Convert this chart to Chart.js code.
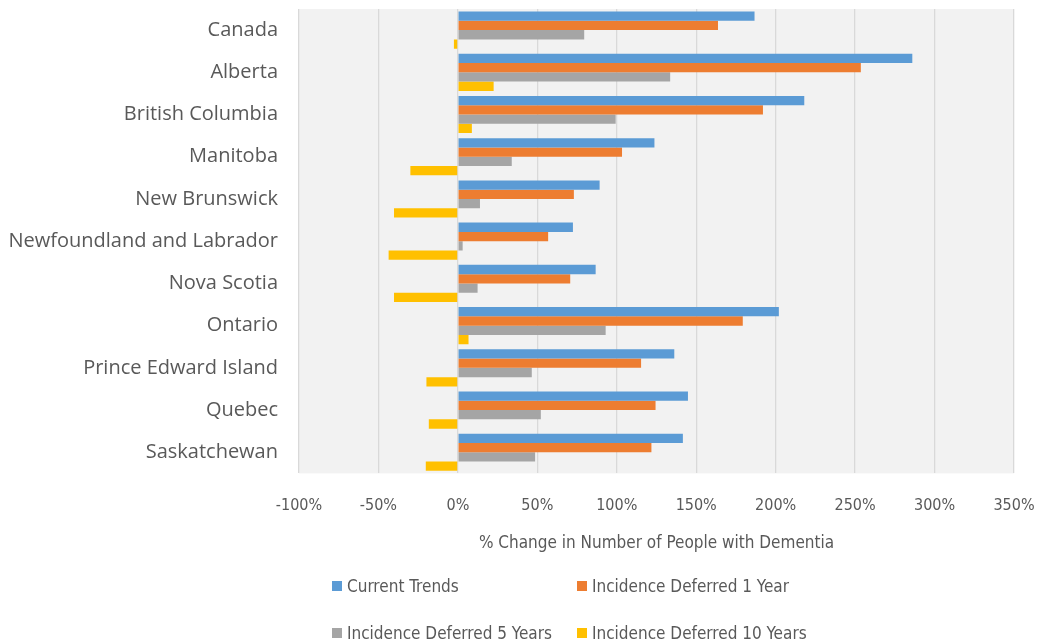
<!DOCTYPE html>
<html>
<head>
<meta charset="utf-8">
<script src="https://cdn.jsdelivr.net/npm/chart.js@4.4.1/dist/chart.umd.min.js"></script>
<style>
  html, body { margin: 0; padding: 0; background: #fff; }
  #wrap { position: relative; width: 1042px; height: 643px; }
  #legend { position: absolute; left: 0; top: 0; width: 1042px; height: 643px; pointer-events: none; }
  .item { position: absolute; display: flex; align-items: center; height: 24px;
          font: 17px 'Liberation Sans Narrow', 'DejaVu Sans Condensed', sans-serif; color: #595959; white-space: nowrap; }
  .box { width: 10px; height: 10px; margin-right: 5px; }
</style>
</head>
<body>
<div id="wrap">
  <canvas id="chart" width="1042" height="643"></canvas>
  <div id="legend"></div>
</div>
<script>
const provinces = [
  'Canada', 'Alberta', 'British Columbia', 'Manitoba', 'New Brunswick',
  'Newfoundland and Labrador', 'Nova Scotia', 'Ontario', 'Prince Edward Island',
  'Quebec', 'Saskatchewan'
];
const seriesNames = [
  'Current Trends', 'Incidence Deferred 1 Year',
  'Incidence Deferred 5 Years', 'Incidence Deferred 10 Years'
];
const seriesColors = ['#5b9bd5', '#ed7d31', '#a5a5a5', '#ffc000'];

// % change per province
const currentTrends = [186.7, 286, 218, 123.7, 89.2, 72.4, 86.7, 202, 136.2, 144.8, 141.6];
const deferred1Year = [163.7, 253.6, 192, 103.3, 73, 56.8, 70.7, 179.3, 115.3, 124.4, 121.8];
const deferred5Years = [79.5, 133.6, 99.3, 33.9, 13.9, 3, 12.4, 93, 46.5, 52.2, 48.6];
const deferred10Years = [-2.5, 22.5, 8.8, -29.9, -40.2, -43.6, -40.2, 6.7, -19.8, -18.3, -20.2];

const xTitle = '% Change in Number of People with Dementia';
const xMin = -100, xMax = 350, xStep = 50;

const allSeries = [currentTrends, deferred1Year, deferred5Years, deferred10Years];

const textColor = '#595959';
const narrow = "'Liberation Sans Narrow', 'DejaVu Sans Condensed', sans-serif";

// grey plot area behind the bars
const plotBg = {
  id: 'plotBg',
  beforeDraw(chart) {
    const { ctx, chartArea: a } = chart;
    ctx.save();
    ctx.fillStyle = '#f2f2f2';
    ctx.fillRect(a.left, a.top, a.right - a.left, a.bottom - a.top);
    ctx.restore();
  }
};

const chart = new Chart(document.getElementById('chart'), {
  type: 'bar',
  data: {
    labels: provinces,
    datasets: allSeries.map((vals, i) => ({
      label: seriesNames[i],
      data: vals,
      backgroundColor: seriesColors[i],
      categoryPercentage: 0.88,
      barPercentage: 1.0
    }))
  },
  options: {
    indexAxis: 'y',
    responsive: false,
    animation: false,
    layout: { padding: { top: 9, right: 28, bottom: 84, left: 0 } },
    plugins: {
      legend: { display: false },
      tooltip: { enabled: false }
    },
    scales: {
      x: {
        min: xMin,
        max: xMax,
        ticks: {
          stepSize: xStep,
          padding: 23,
          color: textColor,
          font: { family: narrow, size: 16 },
          callback: v => v + '%'
        },
        grid: { color: '#d9d9d9', lineWidth: 1.3, drawTicks: false },
        border: { display: false },
        title: {
          display: true,
          text: xTitle,
          color: textColor,
          font: { family: narrow, size: 17 },
          padding: { top: -5, bottom: 5 }
        },
        afterFit(scale) {
          scale.paddingLeft = 0;
          scale.paddingRight = 0;
        }
      },
      y: {
        grid: { display: false, drawTicks: false },
        border: { display: false },
        ticks: {
          padding: 21,
          color: textColor,
          font: { family: "'Open Sans', sans-serif", size: 20 }
        },
        afterFit(scale) {
          scale.width = 299;
          scale.paddingTop = 0;
          scale.paddingBottom = 0;
        }
      }
    }
  },
  plugins: [plotBg]
});

// two-column legend underneath the axis title
const legendPos = [
  { left: 332, top: 586 }, { left: 577, top: 586 },
  { left: 332, top: 633 }, { left: 577, top: 633 }
];
const legend = document.getElementById('legend');
chart.data.datasets.forEach((ds, i) => {
  const el = document.createElement('div');
  el.className = 'item';
  el.style.left = legendPos[i].left + 'px';
  el.style.top = (legendPos[i].top - 12) + 'px';
  const box = document.createElement('span');
  box.className = 'box';
  box.style.background = ds.backgroundColor;
  const txt = document.createElement('span');
  txt.textContent = ds.label;
  el.appendChild(box);
  el.appendChild(txt);
  legend.appendChild(el);
});
</script>
</body>
</html>
